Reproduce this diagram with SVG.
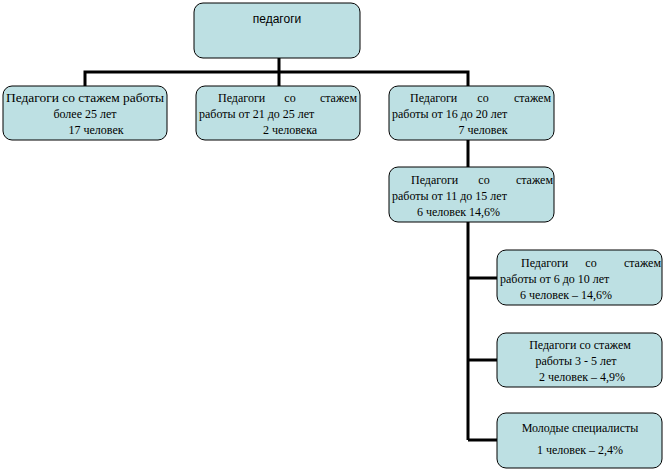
<svg xmlns="http://www.w3.org/2000/svg" width="666" height="474" viewBox="0 0 666 474">
<style>
.b{fill:#bde0e3;stroke:#000;stroke-width:1}
.t{font-family:"Liberation Serif",serif;font-size:12px;fill:#000}
.c{stroke:#000;stroke-width:3;fill:none}
</style>
<rect width="666" height="474" fill="#fff"/>
<g id="connectors">
<path class="c" d="M279 58V72M85 86V72H468V86M279 72V86M468 140V167M468 222V440M468 278H497M468 360H497M468 440H497"/>
</g>
<g id="n0"><rect class="b" x="194" y="3" width="166" height="55" rx="9"/><text x="277" y="23" text-anchor="middle" font-family="Liberation Sans,sans-serif" font-size="12">педагоги</text></g>
<g id="n1"><rect class="b" x="3" y="86" width="164" height="54" rx="9"/><text class="t"><tspan x="6" y="102" textLength="158" lengthAdjust="spacingAndGlyphs">Педагоги со стажем работы</tspan><tspan x="85" y="118" text-anchor="middle">более 25 лет</tspan><tspan x="96" y="134" text-anchor="middle">17 человек</tspan></text></g>
<g id="n2"><rect class="b" x="196" y="86" width="164" height="54" rx="9"/><text class="t"><tspan x="218" y="102">Педагоги</tspan><tspan x="290" y="102" text-anchor="middle">со</tspan><tspan x="357" y="102" text-anchor="end">стажем</tspan><tspan x="199" y="118">работы от 21 до 25 лет</tspan><tspan x="290" y="134" text-anchor="middle">2 человека</tspan></text></g>
<g id="n3"><rect class="b" x="389" y="86" width="165" height="54" rx="9"/><text class="t"><tspan x="410" y="102">Педагоги</tspan><tspan x="483" y="102" text-anchor="middle">со</tspan><tspan x="551" y="102" text-anchor="end">стажем</tspan><tspan x="392" y="118">работы от 16 до 20 лет</tspan><tspan x="483" y="134" text-anchor="middle">7 человек</tspan></text></g>
<g id="n4"><rect class="b" x="389" y="167" width="165" height="55" rx="9"/><text class="t"><tspan x="411" y="184">Педагоги</tspan><tspan x="484" y="184" text-anchor="middle">со</tspan><tspan x="553" y="184" text-anchor="end">стажем</tspan><tspan x="392" y="200">работы от 11 до 15 лет</tspan><tspan x="417" y="216">6 человек     14,6%</tspan></text></g>
<g id="n5"><rect class="b" x="497" y="250" width="165" height="55" rx="9"/><text class="t"><tspan x="521" y="267">Педагоги</tspan><tspan x="591" y="267" text-anchor="middle">со</tspan><tspan x="661" y="267" text-anchor="end">стажем</tspan><tspan x="500" y="283">работы от 6 до 10 лет</tspan><tspan x="520" y="299">6 человек – 14,6%</tspan></text></g>
<g id="n6"><rect class="b" x="497" y="333" width="165" height="54" rx="9"/><text class="t" text-anchor="middle"><tspan x="580" y="349">Педагоги со стажем</tspan><tspan x="576" y="365">работы  3 - 5 лет</tspan><tspan x="582" y="381">2 человек – 4,9%</tspan></text></g>
<g id="n7"><rect class="b" x="497" y="413" width="165" height="55" rx="9"/><text class="t" text-anchor="middle"><tspan x="580" y="432">Молодые специалисты</tspan><tspan x="580" y="454">1 человек – 2,4%</tspan></text></g>
</svg>
